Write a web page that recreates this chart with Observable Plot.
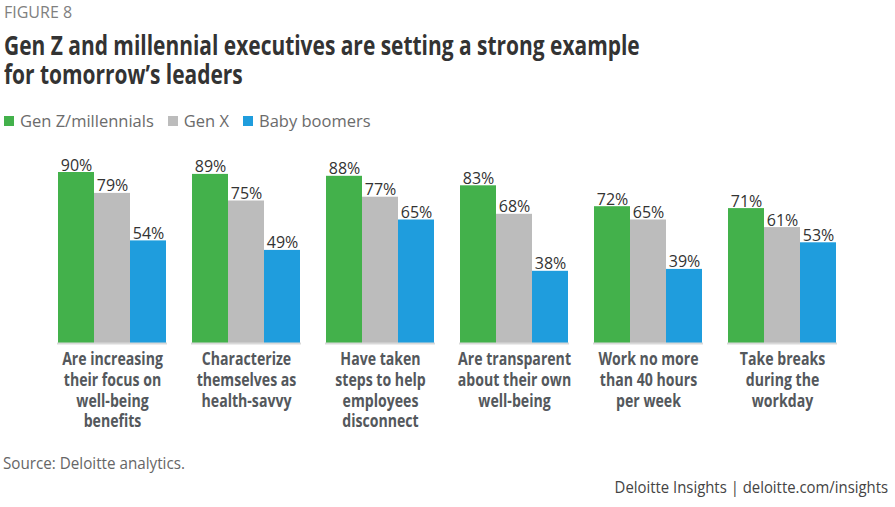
<!DOCTYPE html>
<html>
<head>
<meta charset="utf-8">
<script src="https://cdn.jsdelivr.net/npm/d3@7"></script>
<script src="https://cdn.jsdelivr.net/npm/@observablehq/plot@0.6"></script>
<style>
  body { margin: 0; background: #fff; width: 895px; height: 507px; overflow: hidden; font-family: "Open Sans", sans-serif; }
  #fig { position: absolute; left: 4px; top: 3px; font-size: 16px; color: #808080; line-height: 18px; }
  .title { position: absolute; left: 4px; font-family: "Open Sans", sans-serif; font-weight: bold; font-size: 26px; line-height: 29px; color: #333; transform: scaleX(0.805); transform-origin: left top; white-space: nowrap; }
  #legend { position: absolute; left: 4px; top: 110px; font-size: 16.5px; color: #6b6b6b; display: flex; gap: 14px; line-height: 22px; }
  #legend span.sw { display: inline-block; width: 10px; height: 10px; margin-right: 6px; vertical-align: 1px; }
  #chart { position: absolute; left: 0; top: 135px; }
  #source { position: absolute; left: 3px; top: 452px; font-size: 16px; color: #666; transform: scaleX(0.95); transform-origin: left top; white-space: nowrap; }
  #credit { position: absolute; right: 7px; top: 476px; font-size: 16px; color: #444; transform: scaleX(0.93); transform-origin: right top; white-space: nowrap; }
</style>
</head>
<body>
<div id="fig">FIGURE 8</div>
<div class="title" style="top:31px">Gen Z and millennial executives are setting a strong example</div>
<div class="title" style="top:60px">for tomorrow’s leaders</div>
<div id="legend"></div>
<div id="chart"></div>
<div id="source">Source: Deloitte analytics.</div>
<div id="credit">Deloitte Insights | deloitte.com/insights</div>
<script>
const categories = [
  "Are increasing\ntheir focus on\nwell-being\nbenefits",
  "Characterize\nthemselves as\nhealth-savvy",
  "Have taken\nsteps to help\nemployees\ndisconnect",
  "Are transparent\nabout their own\nwell-being",
  "Work no more\nthan 40 hours\nper week",
  "Take breaks\nduring the\nworkday"
];
const seriesNames = ["Gen Z/millennials", "Gen X", "Baby boomers"];
const seriesColors = ["#43b14b", "#bcbcbc", "#1f9ddd"];
const genZ = [90, 89, 88, 83, 72, 71];
const genX = [79, 75, 77, 68, 65, 61];
const boomers = [54, 49, 65, 38, 39, 53];

const seriesValues = [genZ, genX, boomers];
const data = [];
categories.forEach((c, i) => {
  seriesNames.forEach((s, j) => data.push({category: c, series: s, value: seriesValues[j][i]}));
});

// legend
const leg = document.getElementById("legend");
seriesNames.forEach((s, j) => {
  const d = document.createElement("div");
  d.innerHTML = `<span class="sw" style="background:${seriesColors[j]}"></span>${s}`;
  leg.appendChild(d);
});

const chart = Plot.plot({
  width: 895,
  height: 305,
  marginTop: 18,
  marginBottom: 97,
  marginLeft: 55,
  marginRight: 57,
  fx: {domain: categories, paddingInner: 0.18, paddingOuter: 0, label: null, axis: null},
  x: {domain: seriesNames, padding: 0, axis: null},
  y: {domain: [0, 100], axis: null},
  color: {domain: seriesNames, range: seriesColors},
  marks: [
    Plot.barY(data, {fx: "category", x: "series", y: "value", fill: "series"}),
    Plot.text(data, {fx: "category", x: "series", y: "value", text: d => d.value + "%", lineAnchor: "bottom", dy: -2, fontSize: 16, fill: "#333", fontFamily: "Open Sans"}),
    Plot.ruleY([0], {stroke: "#d9d9d9", strokeWidth: 2}),
    Plot.text(categories, {fx: d => d, text: d => d, frameAnchor: "bottom", lineAnchor: "top", dy: 7, fontSize: 17, lineHeight: 1.22, fill: "#54585c", fontFamily: "Open Sans", fontWeight: "bold", className: "catlab"})
  ]
});
// condense the category labels horizontally (reference uses a condensed face)
d3.select(chart).selectAll('.catlab text').each(function() {
  const t = this.getAttribute("transform") || "";
  const cx = parseFloat(this.getAttribute("x")) || 0;
  this.setAttribute("transform", `${t} translate(${cx},0) scale(0.83,1) translate(${-cx},0)`);
});
document.getElementById("chart").appendChild(chart);
</script>
</body>
</html>
